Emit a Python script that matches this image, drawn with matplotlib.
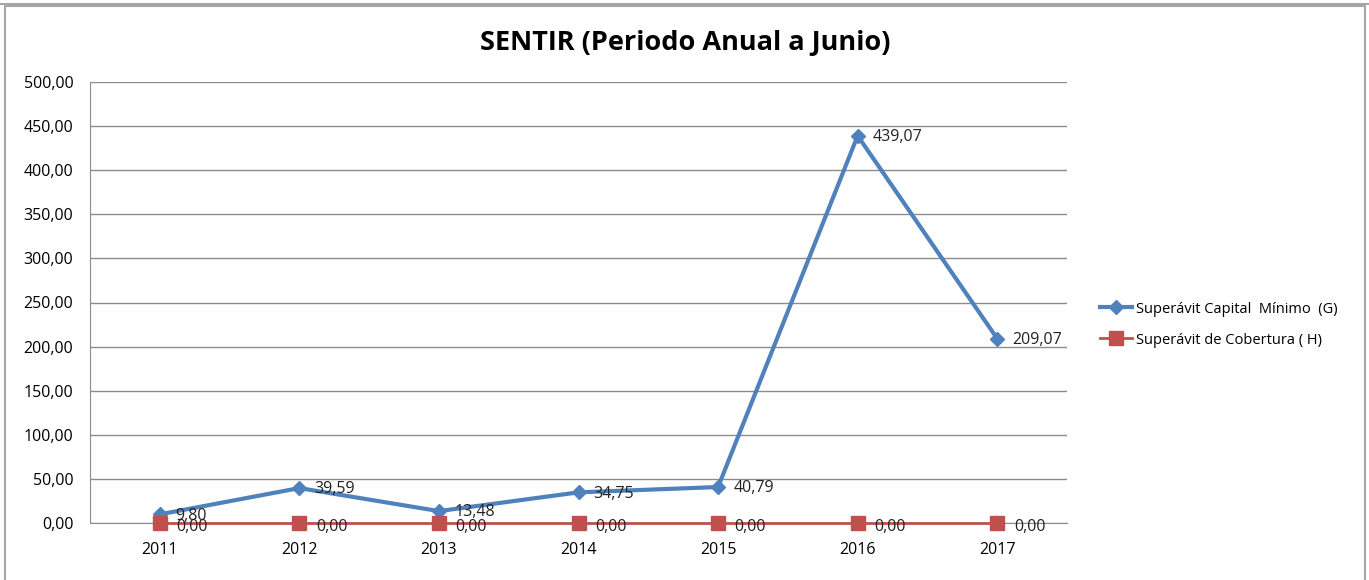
import matplotlib
matplotlib.use("Agg")
import matplotlib.pyplot as plt
from matplotlib.patches import Rectangle
from matplotlib.lines import Line2D

# data
years = ['2011', '2012', '2013', '2014', '2015', '2016', '2017']
capital_minimo = [9.80, 39.59, 13.48, 34.75, 40.79, 439.07, 209.07]
cobertura = [0.00, 0.00, 0.00, 0.00, 0.00, 0.00, 0.00]
yticks = [0, 50, 100, 150, 200, 250, 300, 350, 400, 450, 500]

plt.rcParams['font.family'] = ['Open Sans', 'DejaVu Sans']

def fmt(v):
    return f"{v:.2f}".replace('.', ',')

W, H = 1369, 580
fig = plt.figure(figsize=(W / 100, H / 100), dpi=100)

# outer frames
fig.add_artist(Line2D([0, 1], [1 - 3.5 / H, 1 - 3.5 / H], color='#a6a6a6', lw=1.5, transform=fig.transFigure))
fig.add_artist(Rectangle((5 / W, -0.01), (1360 / W), 1 - 6 / H + 0.01, transform=fig.transFigure,
                         fill=False, edgecolor='#a6a6a6', lw=1.5))

ax = fig.add_axes([90 / W, 57 / H, 977 / W, 441 / H])
x = list(range(len(years)))

ax.plot(x, capital_minimo, color='#4F81BD', lw=3, marker='D', markersize=7, zorder=3,
        clip_on=False, label='Superávit Capital  Mínimo  (G)')
ax.plot(x, cobertura, color='#C0504D', lw=2, marker='s', markersize=10, zorder=4,
        clip_on=False, label='Superávit de Cobertura ( H)')

for i, v in enumerate(capital_minimo):
    ax.annotate(fmt(v), (i, v), xytext=(11, -1), textcoords='offset points',
                ha='left', va='center', fontsize=11.5, color='#222222', zorder=5)
for i, v in enumerate(cobertura):
    ax.annotate(fmt(v), (i, v), xytext=(12, -3), textcoords='offset points',
                ha='left', va='center', fontsize=11.5, color='#222222', zorder=5)

ax.set_xlim(-0.5, len(years) - 0.5)
ax.set_ylim(0, 500)
ax.set_yticks(yticks)
ax.set_yticklabels([fmt(t) for t in yticks], fontsize=11.5)
ax.set_xticks(x)
ax.set_xticklabels(years, fontsize=11.5)
ax.tick_params(axis='y', length=0, pad=12)
ax.tick_params(axis='x', length=0, pad=14)
ax.grid(axis='y', color='#8c8c8c', lw=1)
ax.set_axisbelow(True)
for s in ['top', 'right']:
    ax.spines[s].set_visible(False)
ax.spines['left'].set_color('#8c8c8c')
ax.spines['bottom'].set_color('#8c8c8c')

fig.text(685 / W, 1 - 43 / H, 'SENTIR (Periodo Anual a Junio)', ha='center', va='center',
         fontsize=19.5, fontweight='bold')

ax.legend(loc='center left', bbox_to_anchor=(1.02, 0.45), frameon=False, fontsize=10.5,
          handlelength=2.2, handletextpad=0.3, labelspacing=1.1)

fig.savefig('out.png', dpi=100)
